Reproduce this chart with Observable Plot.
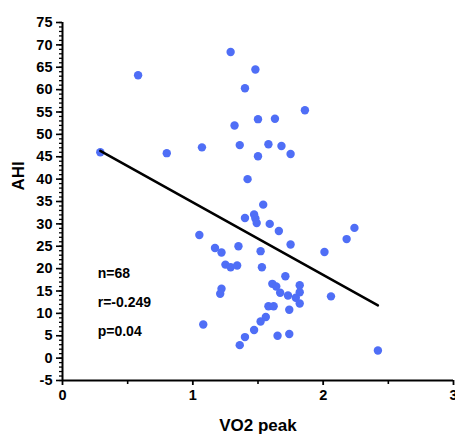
<!DOCTYPE html>
<html>
<head>
<meta charset="utf-8">
<script src="https://cdn.jsdelivr.net/npm/d3@7"></script>
<script src="https://cdn.jsdelivr.net/npm/@observablehq/plot@0.6"></script>
<style>
  html, body { margin: 0; padding: 0; background: #fff; }
  #chart svg { display: block; }
</style>
</head>
<body>
<div id="chart"></div>
<script>
// VO2 peak values (x) and AHI values (y)
const vo2 = [
  0.29, 0.58, 0.80, 1.07, 1.29, 1.48, 1.40, 1.50, 1.32, 1.63,
  1.86, 1.36, 1.58, 1.68, 1.75, 1.50, 1.42, 1.54, 1.40, 1.47,
  1.48, 1.49, 1.59, 1.66, 1.75, 1.05, 1.17, 1.22, 1.35, 1.52,
  1.25, 1.29, 1.34, 1.53, 1.71, 1.22, 1.21, 1.08, 1.36, 1.40,
  1.47, 1.61, 1.64, 1.67, 1.73, 1.79, 1.82, 1.82, 1.82, 1.74,
  1.58, 1.62, 1.56, 1.52, 1.65, 1.74, 2.42, 2.01, 2.06, 2.18,
  2.24
];
const ahi = [
  46.0, 63.2, 45.8, 47.1, 68.4, 64.5, 60.3, 53.4, 52.0, 53.5,
  55.4, 47.6, 47.8, 47.4, 45.6, 45.1, 40.0, 34.3, 31.3, 32.1,
  31.2, 30.2, 30.0, 28.4, 25.4, 27.5, 24.6, 23.6, 25.0, 23.9,
  20.9, 20.3, 20.7, 20.3, 18.3, 15.5, 14.4, 7.5, 2.9, 4.7,
  6.3, 16.6, 16.0, 14.6, 14.0, 13.5, 16.3, 14.7, 12.2, 10.8,
  11.6, 11.6, 9.2, 8.2, 5.0, 5.4, 1.7, 23.7, 13.8, 26.6,
  29.1
];

// fitted regression line
const fitSlope = -16.2;
const fitIntercept = 51.0;

// axis ticks
const xTicks = [0, 1, 2, 3];
const xMinorTicks = [0.5, 1.5, 2.5];
const yTicks = [-5, 0, 5, 10, 15, 20, 25, 30, 35, 40, 45, 50, 55, 60, 65, 70, 75];
const yMinorTicks = d3.range(-5, 76, 1);

// annotation lines
const statLabels = ["n=68", "r=-0.249", "p=0.04"];
const statY = [18.9, 12.4, 6.0];
const statX = 0.27;

const points = vo2.map((v, i) => ({x: v, y: ahi[i]}));
const xMin = d3.min(vo2), xMax = d3.max(vo2);
const fit = [xMin, xMax].map(x => ({x, y: fitIntercept + fitSlope * x}));
const stats = statLabels.map((t, i) => ({t, x: statX, y: statY[i]}));

const font = "'Liberation Sans', Arial, sans-serif";
const fmt = d => String(d);

const chart = Plot.plot({
  width: 455,
  height: 438,
  marginLeft: 62,
  marginRight: 2,
  marginTop: 22,
  marginBottom: 58,
  style: {fontFamily: font, fontWeight: "bold", color: "black", background: "white"},
  x: {domain: [0, 3]},
  y: {domain: [-5, 75]},
  marks: [
    Plot.axisY(yMinorTicks, {tickSize: 3, text: null, strokeWidth: 1.3, label: null}),
    Plot.axisY(yTicks, {tickSize: 6, tickPadding: 4, tickFormat: fmt, fontSize: 14.5, fontWeight: "bold", strokeWidth: 1.6, label: null}),
    Plot.axisX(xMinorTicks, {tickSize: 4, text: null, strokeWidth: 1.6, label: null}),
    Plot.axisX(xTicks, {tickSize: 5, tickPadding: 4, tickFormat: fmt, fontSize: 14.5, fontWeight: "bold", strokeWidth: 1.8, label: null}),
    Plot.ruleX([0], {stroke: "black", strokeWidth: 2}),
    Plot.ruleY([-5], {stroke: "black", strokeWidth: 2}),
    Plot.text(["VO2 peak"], {frameAnchor: "bottom", dy: 50, fontSize: 17, fontWeight: "bold", fill: "black"}),
    Plot.text(["AHI"], {frameAnchor: "left", rotate: -90, dx: -44, dy: -11, fontSize: 17, fontWeight: "bold", fill: "black"}),
    Plot.dot(points, {x: "x", y: "y", r: 4.2, fill: "#4F6EF6", stroke: "none"}),
    Plot.line(fit, {x: "x", y: "y", stroke: "black", strokeWidth: 2.5}),
    Plot.text(stats, {x: "x", y: "y", text: "t", textAnchor: "start", fontSize: 14, fontWeight: "bold", fill: "black"})
  ]
});
document.getElementById("chart").appendChild(chart);
</script>
</body>
</html>
